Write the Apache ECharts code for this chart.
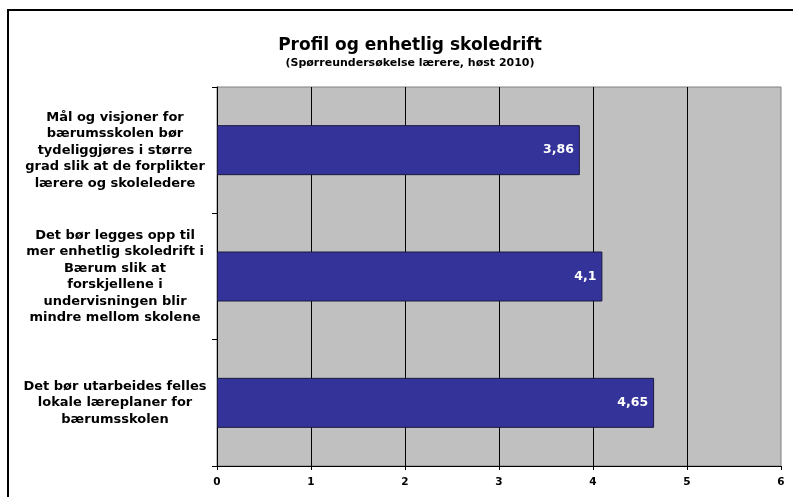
<!DOCTYPE html>
<html>
<head>
<meta charset="utf-8">
<script src="https://cdn.jsdelivr.net/npm/echarts@6/dist/echarts.min.js"></script>
<style>
  html, body { margin: 0; padding: 0; background: #fff; }
  #chart { width: 793px; height: 497px; }
</style>
</head>
<body>
<div id="chart"></div>
<script>
// Survey statements (top to bottom) and their mean scores
const statements = [
  'Mål og visjoner for\nbærumsskolen bør\ntydeliggjøres i større\ngrad slik at de forplikter\nlærere og skoleledere',
  'Det bør legges opp til\nmer enhetlig skoledrift i\nBærum slik at\nforskjellene i\nundervisningen blir\nmindre mellom skolene',
  'Det bør utarbeides felles\nlokale læreplaner for\nbærumsskolen'
];
const scores = [3.86, 4.1, 4.65];
const scaleMin = 0;
const scaleMax = 6;
const scaleStep = 1;

const FONT = 'DejaVu Sans';

const chart = echarts.init(document.getElementById('chart'), null, { renderer: 'canvas' });

chart.setOption({
  backgroundColor: '#ffffff',
  animation: false,
  title: {
    text: 'Profil og enhetlig skoledrift',
    subtext: '(Spørreundersøkelse lærere, høst 2010)',
    left: 405,
    textAlign: 'center',
    top: 32,
    itemGap: 4,
    textStyle: { fontFamily: FONT, fontSize: 17, fontWeight: 'bold', color: '#000' },
    subtextStyle: { fontFamily: FONT, fontSize: 11, fontWeight: 'bold', color: '#000' }
  },
  graphic: [{
    type: 'rect',
    shape: { x: 8, y: 10, width: 820, height: 520 },
    style: { fill: 'none', stroke: '#000', lineWidth: 2 },
    silent: true,
    z: 100
  }],
  grid: {
    left: 217,
    right: 12,
    top: 87,
    bottom: 31,
    show: true,
    backgroundColor: '#c0c0c0',
    borderColor: '#808080',
    borderWidth: 1
  },
  xAxis: {
    type: 'value',
    min: scaleMin,
    max: scaleMax,
    interval: scaleStep,
    axisLine: { show: true, lineStyle: { color: '#000', width: 1 } },
    axisTick: { show: true, length: 4, lineStyle: { color: '#000' } },
    splitLine: { show: true, showMinLine: false, showMaxLine: false, lineStyle: { color: '#000', width: 1 } },
    axisLabel: {
      fontFamily: FONT, fontSize: 10.5, fontWeight: 'bold', color: '#000', margin: 11,
      formatter: v => String(v)
    }
  },
  yAxis: {
    type: 'category',
    inverse: true,
    data: statements,
    axisLine: { show: true, lineStyle: { color: '#000', width: 1 } },
    axisTick: { show: true, length: 5, alignWithLabel: false, lineStyle: { color: '#000' } },
    splitLine: { show: false },
    axisLabel: {
      fontFamily: FONT, fontSize: 13, fontWeight: 'bold', color: '#000',
      align: 'center', margin: 102, lineHeight: 16.5
    }
  },
  series: [{
    type: 'bar',
    data: scores,
    barWidth: 50,
    itemStyle: { color: '#333399', borderColor: '#1a1a40', borderWidth: 1 },
    label: {
      show: true,
      position: 'insideRight',
      distance: 6,
      color: '#fff',
      fontFamily: FONT,
      fontSize: 12.5,
      fontWeight: 'bold',
      formatter: p => String(p.value).replace('.', ',')
    }
  }]
});
</script>
</body>
</html>
